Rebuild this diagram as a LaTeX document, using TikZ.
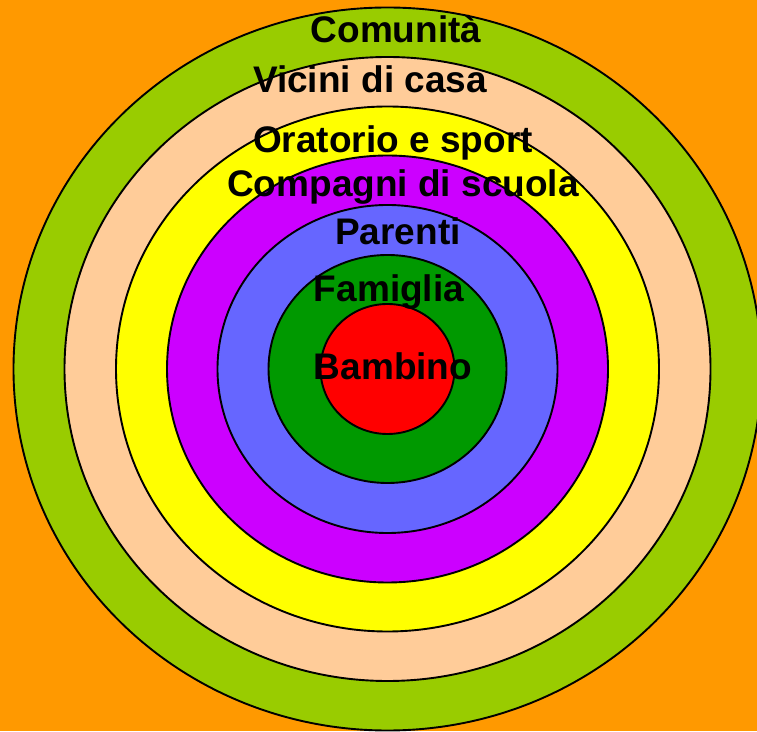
\documentclass[tikz,border=0pt]{standalone}
\usepackage{fontspec}
\setmainfont{Liberation Sans}
\definecolor{bgorange}{HTML}{FF9900}
\definecolor{cgreen}{HTML}{99CC00}
\definecolor{cpeach}{HTML}{FFCC99}
\definecolor{cyellow}{HTML}{FFFF00}
\definecolor{cpurple}{HTML}{CC00FF}
\definecolor{cblue}{HTML}{6666FF}
\definecolor{cdgreen}{HTML}{009900}
\definecolor{cred}{HTML}{FF0000}
\tikzset{
  ring/.style={draw=black, line width=1.9pt},
  lab/.style={anchor=base, inner sep=0pt, font=\fontsize{37}{40}\selectfont\bfseries}
}
\begin{document}
\begin{tikzpicture}[x=1pt,y=1pt]
\fill[bgorange] (0,0) rectangle (757,731);
\useasboundingbox (0,0) rectangle (757,731);
\coordinate (c) at (387.5,362);
\begin{scope}
\clip (0,0) rectangle (757,731);
\filldraw[ring, fill=cgreen]  (c) ellipse [x radius=374, y radius=361.5];
\filldraw[ring, fill=cpeach]  (c) ellipse [x radius=323, y radius=312];
\filldraw[ring, fill=cyellow] (c) ellipse [x radius=271.5, y radius=262.5];
\filldraw[ring, fill=cpurple] (c) ellipse [x radius=220.5, y radius=213.5];
\filldraw[ring, fill=cblue]   (c) ellipse [x radius=170, y radius=164];
\filldraw[ring, fill=cdgreen] (c) ellipse [x radius=119, y radius=114];
\filldraw[ring, fill=cred]    (c) ellipse [x radius=67, y radius=65];
\end{scope}
\node[lab] (comunita) at (396,688) {Comunità};
\node[lab] (vicini) at (370,638) {Vicini di casa};
\node[lab] (oratorio) at (393,578) {Oratorio e sport};
\node[lab] (compagni) at (403,534) {Compagni di scuola};
\node[lab] (parenti) at (398,486) {Parenti};
\node[lab] (famiglia) at (389,429) {Famiglia};
\node[lab] (bambino) at (393,351) {Bambino};
\end{tikzpicture}
\end{document}
